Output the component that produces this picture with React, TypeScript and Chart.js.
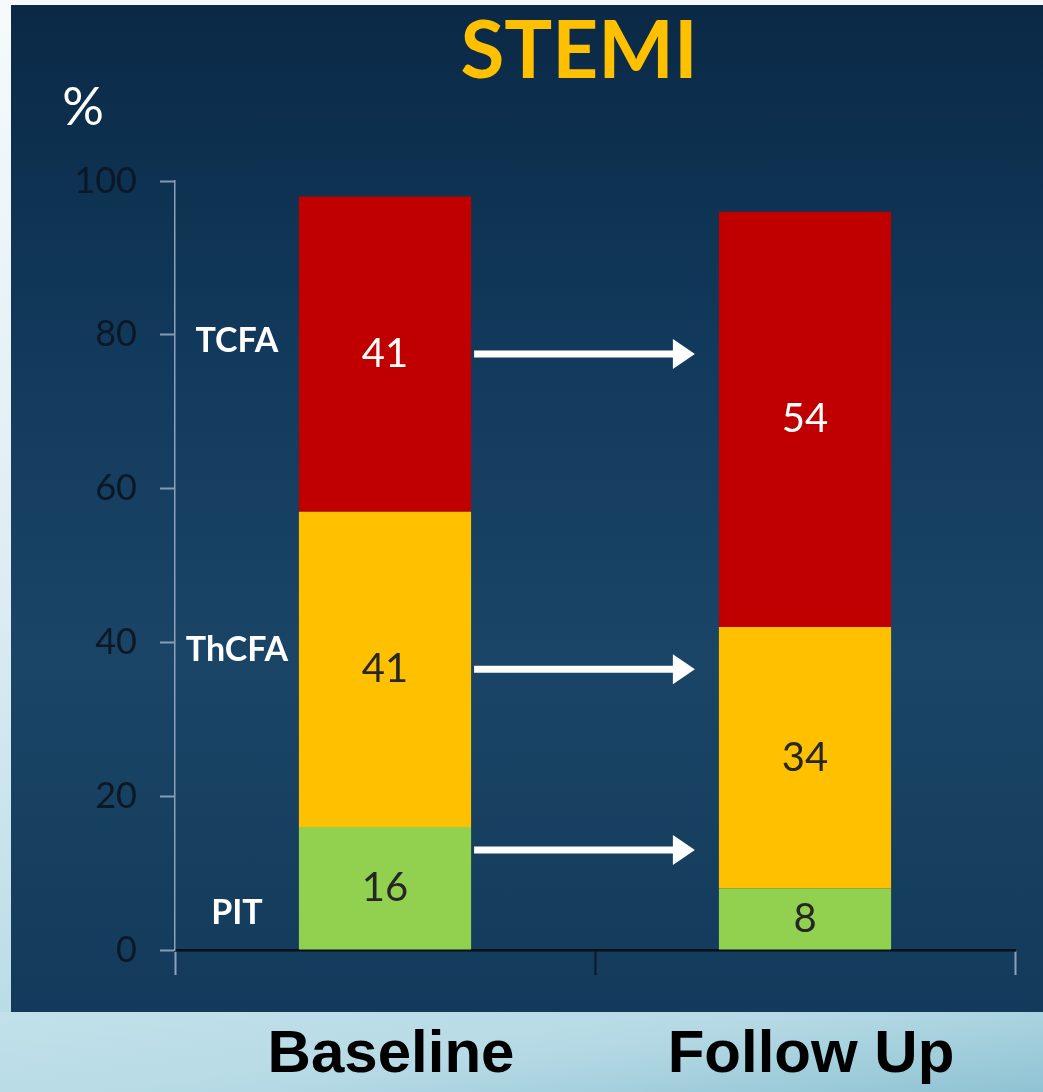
import React, { useEffect, useRef } from "react";
import { Chart, registerables } from "chart.js";

Chart.register(...registerables);

const categories = ["Baseline", "Follow Up"];
const segmentNames = ["PIT", "ThCFA", "TCFA"];
const pitValues = [16, 8];
const thcfaValues = [41, 34];
const tcfaValues = [41, 54];
const yTicks = [0, 20, 40, 60, 80, 100];
// where the side labels and arrows sit, in % units
const segmentLabelLevels = [4.8, 39, 79.2];
const arrowLevels = [13, 36.5, 77.5];

const COLORS = ["#92D050", "#FFC000", "#C00000"];
const VALUE_COLORS = ["#262626", "#262626", "#ffffff"];

const overlayPlugin = {
  id: "overlay",
  afterDatasetsDraw(chart: any) {
    const ctx = chart.ctx;
    const y = chart.scales.y;
    const area = chart.chartArea;
    ctx.save();
    // value labels
    chart.data.datasets.forEach((ds: any, di: number) => {
      const meta = chart.getDatasetMeta(di);
      meta.data.forEach((bar: any, i: number) => {
        const cy = (bar.y + bar.base) / 2;
        ctx.fillStyle = VALUE_COLORS[di];
        ctx.font = "40px Lato";
        ctx.textAlign = "center";
        ctx.textBaseline = "middle";
        ctx.fillText(String(ds.data[i]), bar.x, cy);
      });
    });
    // segment names
    const bar0 = chart.getDatasetMeta(0).data[0];
    const bar1 = chart.getDatasetMeta(0).data[1];
    const leftEdge = bar0.x - bar0.width / 2;
    const nameX = (area.left + leftEdge) / 2;
    ctx.fillStyle = "#ffffff";
    ctx.font = "bold 34px Lato";
    ctx.textAlign = "center";
    ctx.textBaseline = "middle";
    segmentNames.forEach((n, i) => {
      ctx.fillText(n, nameX, y.getPixelForValue(segmentLabelLevels[i]));
    });
    // arrows
    const x0 = bar0.x + bar0.width / 2 + 3;
    const x1 = bar1.x - bar1.width / 2 - 24;
    ctx.strokeStyle = "#ffffff";
    ctx.fillStyle = "#ffffff";
    ctx.lineWidth = 7;
    arrowLevels.forEach((lv) => {
      const py = y.getPixelForValue(lv);
      ctx.beginPath();
      ctx.moveTo(x0, py);
      ctx.lineTo(x1 - 18, py);
      ctx.stroke();
      ctx.beginPath();
      ctx.moveTo(x1, py);
      ctx.lineTo(x1 - 22, py - 15);
      ctx.lineTo(x1 - 22, py + 15);
      ctx.closePath();
      ctx.fill();
    });
    // title and unit
    ctx.fillStyle = "#FFC000";
    ctx.font = "bold 80px Lato";
    ctx.textAlign = "center";
    ctx.textBaseline = "middle";
    ctx.fillText("STEMI", 579, 52);
    ctx.fillStyle = "#ffffff";
    ctx.font = "52px Lato";
    ctx.fillText("%", 83, 108);
    ctx.restore();
  },
};

export default function App() {
  const ref = useRef<HTMLCanvasElement | null>(null);
  useEffect(() => {
    if (!ref.current) return;
    const chart = new Chart(ref.current, {
      type: "bar",
      data: {
        labels: categories,
        datasets: [
          { label: segmentNames[0], data: pitValues, backgroundColor: COLORS[0] },
          { label: segmentNames[1], data: thcfaValues, backgroundColor: COLORS[1] },
          { label: segmentNames[2], data: tcfaValues, backgroundColor: COLORS[2] },
        ],
      },
      options: {
        responsive: false,
        animation: false,
        devicePixelRatio: 1,
        layout: { padding: { top: 181, right: 28, left: 0, bottom: 0 } },
        datasets: { bar: { categoryPercentage: 1, barPercentage: 0.41, borderWidth: 0 } },
        plugins: { legend: { display: false }, tooltip: { enabled: false }, title: { display: false } },
        scales: {
          x: {
            stacked: true,
            afterFit: (s: any) => {
              s.height = 142;
            },
            grid: {
              drawOnChartArea: false,
              tickLength: 25,
              tickWidth: 2,
              tickColor: (c: any) => (c.index === 1 ? "#0a1828" : "#8aa2ba"),
            },
            border: { color: "#050f1a", width: 2.5 },
            ticks: {
              color: "#000000",
              font: { family: "'Liberation Sans', Arial, sans-serif", size: 60, weight: "bold" },
              padding: 44,
              labelOffset: 6,
              maxRotation: 0,
            },
          },
          y: {
            stacked: true,
            min: 0,
            max: 100,
            afterFit: (s: any) => {
              s.width = 175;
            },
            afterBuildTicks: (s: any) => {
              s.ticks = yTicks.map((v) => ({ value: v }));
            },
            grid: {
              drawOnChartArea: false,
              tickLength: 15,
              tickWidth: 2,
              tickColor: "rgba(170,190,210,0.75)",
            },
            border: { color: "#8aa2ba", width: 1.5 },
            ticks: {
              color: "#0c1826",
              font: { family: "Lato", size: 36 },
              padding: 23,
            },
          },
        },
      },
      plugins: [overlayPlugin],
    });
    return () => chart.destroy();
  }, []);

  return (
    <div
      style={{
        position: "absolute",
        left: 0,
        top: 0,
        width: 1043,
        height: 1092,
        overflow: "hidden",
        background: "linear-gradient(180deg, #f6fafc 0%, #dcecf2 55%, #b4d9e4 100%)",
      }}
    >
      <div
        style={{
          position: "absolute",
          left: 0,
          top: 1012,
          width: 1043,
          height: 80,
          background: "linear-gradient(172deg, #c2e1ea 0%, #b6dae5 50%, #8fc3d3 100%)",
        }}
      />
      <div
        style={{
          position: "absolute",
          left: 11,
          top: 5,
          width: 1032,
          height: 1007,
          background: "linear-gradient(180deg, #0a2946 0%, #123a5c 35%, #1a4566 65%, #133a5a 100%)",
        }}
      />
      <canvas
        ref={ref}
        width={1043}
        height={1092}
        style={{ position: "absolute", left: 0, top: 0, width: 1043, height: 1092, display: "block" }}
      />
    </div>
  );
}
